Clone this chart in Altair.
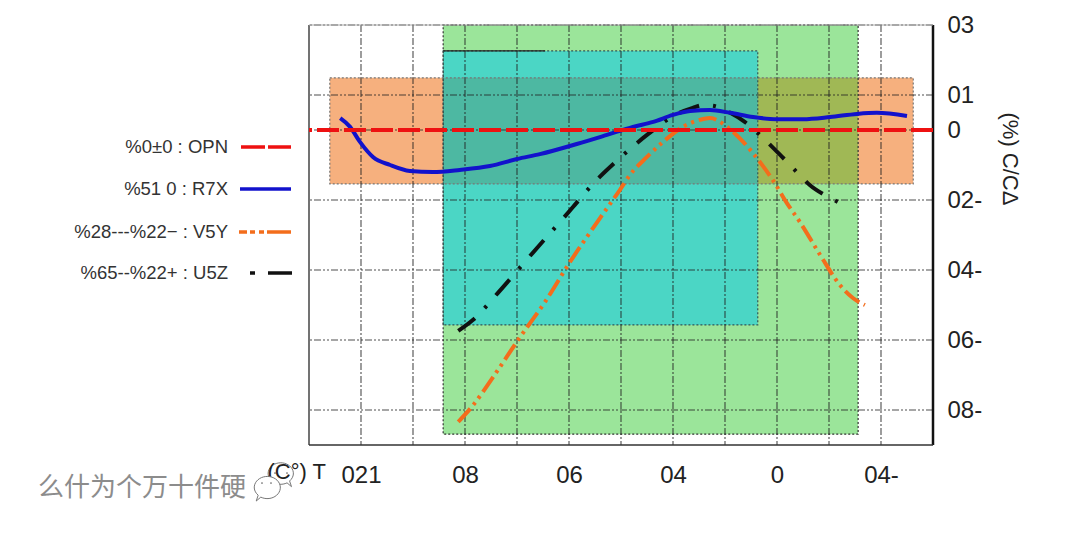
import altair as alt
import pandas as pd

RLO = "\u202e"  # the reference is a mirror image: glyphs run right to left

# x positions are gridline numbers, since the printed labels are not evenly spaced
x_ticks = list(range(11))
x_label_at = [0, 2, 4, 6, 8, 10]
x_labels = ["120", "80", "60", "40", "0", "-40"]
y_ticks = [30, 10, 0, -20, -40, -60, -80]

x7r_x = [-0.40, -0.21, -0.02, 0.23, 0.56, 0.94, 1.38, 1.90, 2.48, 3.0, 3.44, 4.15, 4.73, 5.23, 5.62, 6.0, 6.33, 6.71, 7.1, 7.54, 8.0, 8.5, 9.02, 9.54, 9.92, 10.5]
x7r_y = [3.4, 0.9, -3.4, -7.7, -10, -11.7, -12, -11.4, -10.3, -8.3, -6.9, -4, -1.4, 0.9, 2.3, 4.3, 5.4, 5.7, 4.9, 3.7, 3.1, 3.1, 3.7, 4.6, 4.9, 4.0]
y5v_x = [1.87, 2.13, 2.54, 3.02, 3.54, 4.02, 4.6, 4.98, 5.17, 5.5, 5.81, 6.19, 6.52, 6.71, 7.04, 7.35, 7.67, 7.92, 8.19, 8.44, 8.83, 9.21, 9.46, 9.69]
y5v_y = [-83.4, -79.1, -70.6, -60, -49.1, -37.7, -25.1, -17.1, -12.9, -7.7, -3.4, 0.9, 2.9, 3.4, 0.9, -3.4, -9.1, -14.3, -20.9, -26.3, -35.7, -44.3, -48, -50]
z5u_x = [1.87, 2.15, 2.63, 3.15, 4.06, 4.46, 4.98, 5.5, 6.08, 6.38, 6.58, 6.77, 7.1, 7.38, 7.67, 8.12, 8.4, 8.63, 8.92, 9.25]
z5u_y = [-57.4, -54.3, -46.6, -37.7, -22.3, -15.4, -8, -1.4, 4.6, 6.3, 7.1, 6.9, 4.9, 2.3, -1.4, -8, -12.3, -15.7, -18.6, -21.1]

band_x1 = [-0.6, 1.58, 1.58, 1.58, 7.63]
band_x2 = [10.62, 9.56, 7.63, 7.63, 9.56]
band_y1 = [14.9, 30, 22.6, 14.9, 14.9]
band_y2 = [-15.4, -86.9, -55.7, -15.4, -15.4]
band_fill = ["#F6B07E", "#9BE59A", "#4BD6C5", "#4DB8A2", "#A0B855"]

legend_labels = ["NPO : 0±0%", "X7R : 0   15%", "Y5V : −22%---82%", "Z5U : +22%--56%"]
legend_colors = ["#EE1111", "#1212CC", "#F36D1C", "#111111"]

xs = alt.Scale(domain=[-1, 11], nice=False, zero=False)
ys = alt.Scale(domain=[-90, 30], nice=False, zero=False)


def X(f="x", **k):
    return alt.X(f"{f}:Q", scale=xs, title=None, **k)


def Y(f="y", **k):
    return alt.Y(f"{f}:Q", scale=ys, title=None, **k)


def px(v):
    return alt.value(v - 309)


def py(v):
    return alt.value(v - 25)


label_lookup = "{" + ",".join(f"'{p}':'{RLO}{s}'" for p, s in zip(x_label_at, x_labels)) + "}"

bands = pd.DataFrame({"x": band_x1, "x2": band_x2, "y": band_y1, "y2": band_y2, "fill": band_fill})
bands_layer = alt.Chart(bands).mark_rect().encode(
    x=X(axis=alt.Axis(values=x_label_at, domain=False, ticks=False, grid=False, labelFontSize=24,
                      labelFont="Liberation Sans", labelColor="#222", labelPadding=18,
                      labelFlush=False, labelOverlap=False,
                      labelExpr=label_lookup + "[datum.value]")),
    x2="x2:Q",
    y=Y(axis=alt.Axis(values=y_ticks, orient="right", domain=False, ticks=False, grid=False, labelFontSize=24,
                      labelFont="Liberation Sans", labelColor="#222", labelPadding=14, labelAlign="left",
                      labelFlush=False, labelOverlap=False,
                      labelExpr="'" + RLO + "' + datum.value")),
    y2="y2:Q",
    fill=alt.Fill("fill:N", scale=None),
)

outline = alt.Chart(bands.iloc[:3].assign(c=["#777", "#333", "#355"])).mark_rect(
    fillOpacity=0, strokeWidth=1.2, strokeDash=[2, 2]
).encode(x=X(), x2="x2:Q", y=Y(), y2="y2:Q", stroke=alt.Stroke("c:N", scale=None))

teal_top = alt.Chart(pd.DataFrame({"x": [1.58], "x2": [3.54], "y": [22.6]})).mark_rule(
    color="#222", strokeWidth=1.2
).encode(x=X(), x2="x2:Q", y=Y())

grid_v = alt.Chart(pd.DataFrame({"x": x_ticks})).mark_rule(
    color="#222", strokeWidth=1.1, strokeDash=[7, 2, 2, 2], opacity=0.8
).encode(x=X())
grid_h = alt.Chart(pd.DataFrame({"y": y_ticks})).mark_rule(
    color="#222", strokeWidth=1.1, strokeDash=[7, 2, 2, 2, 2, 2], opacity=0.8
).encode(y=Y())


def curve(xv, yv, color, dash=None, width=4):
    kw = {"strokeDash": dash} if dash else {}
    return alt.Chart(pd.DataFrame({"x": xv, "y": yv})).mark_line(
        color=color, strokeWidth=width, interpolate="monotone", **kw
    ).encode(x=X(), y=Y())


z5u = curve(z5u_x, z5u_y, legend_colors[3], [21, 14, 3, 14])
y5v = curve(y5v_x, y5v_y, legend_colors[2], [18, 5, 3, 5, 3, 5])
x7r = curve(x7r_x, x7r_y, legend_colors[1])
npo = alt.Chart(pd.DataFrame({"y": [0]})).mark_rule(
    color=legend_colors[0], strokeWidth=4, strokeDash=[22, 5]
).encode(y=Y())

frames = [
    alt.Chart(pd.DataFrame({"x": [-1]})).mark_rule(color="#444", strokeWidth=1.5).encode(x=X()),
    alt.Chart(pd.DataFrame({"x": [11]})).mark_rule(color="#111", strokeWidth=2.5).encode(x=X()),
    alt.Chart(pd.DataFrame({"y": [30]})).mark_rule(color="#aaa", strokeWidth=1).encode(y=Y()),
    alt.Chart(pd.DataFrame({"y": [-90]})).mark_rule(color="#333", strokeWidth=1.5).encode(y=Y()),
]


def text(s, x, y, size, align="right", color="#222", font="Liberation Sans", angle=0):
    return alt.Chart(pd.DataFrame({"t": [RLO + s]})).mark_text(
        align=align, baseline="middle", fontSize=size, font=font, color=color, angle=angle
    ).encode(text="t:N", x=px(x), y=py(y))


def seg(x1, x2, y, color, dash=None):
    kw = {"strokeDash": dash} if dash else {}
    return alt.Chart(pd.DataFrame({"a": [0]})).mark_rule(color=color, strokeWidth=3.6, **kw).encode(
        x=px(x1), x2=px(x2), y=py(y)
    )


legend_y = [147, 189, 232, 273]
legend = [text(l, 228, yy, 18.5, color="#333") for l, yy in zip(legend_labels, legend_y)]
legend += [
    seg(241, 291, legend_y[0], legend_colors[0], [24, 3]),
    seg(240, 291, legend_y[1], legend_colors[1]),
    seg(239, 292, legend_y[2], legend_colors[2], [8, 3, 5, 4, 5, 3, 24]),
    seg(250, 292, legend_y[3], legend_colors[3], [5, 13, 24]),
]

bubble = "M -0.9 0 A 1 0.85 0 1 1 -0.4 0.7 L -0.75 1 L -0.6 0.55 A 1 0.85 0 0 1 -0.9 0 Z"
bubble2 = "M 0.9 0 A 1 0.85 0 1 0 0.4 0.7 L 0.75 1 L 0.6 0.55 A 1 0.85 0 0 0 0.9 0 Z"


def icon(x, y, shape, size, fill=None):
    return alt.Chart(pd.DataFrame({"a": [0]})).mark_point(
        shape=shape, size=size, color="#777", filled=False, strokeWidth=1, opacity=1,
        **({"fill": fill, "fillOpacity": 1} if fill else {})
    ).encode(x=px(x), y=py(y))


def eye(x, y):
    return alt.Chart(pd.DataFrame({"a": [0]})).mark_point(
        shape="circle", size=3, color="#666", filled=True, opacity=1
    ).encode(x=px(x), y=py(y))


decor = [
    text("硬件十万个为什么", 246, 488, 26, color="#8c8c8c", font="Noto Sans CJK SC"),
    icon(282, 474, bubble2, 640),
    eye(275, 473), eye(287, 473),
    text("T (°C)", 326, 472, 22),
    icon(266, 488, bubble, 680, "white"),
    eye(262, 483), eye(271, 483),
    text("ΔC/C (%)", 1010, 159, 22, align="center", angle=90),
]

chart = alt.layer(
    bands_layer, outline, teal_top, grid_v, grid_h, *frames, z5u, y5v, x7r, npo, *legend, *decor
).properties(
    width=624, height=420,
    autosize=alt.AutoSizeParams(type="none"),
    padding={"left": 301, "top": 17, "right": 130, "bottom": 70},
    background="white",
).configure_view(stroke=None)

chart.save("out.html", embed_options={"renderer": "svg", "actions": False})
